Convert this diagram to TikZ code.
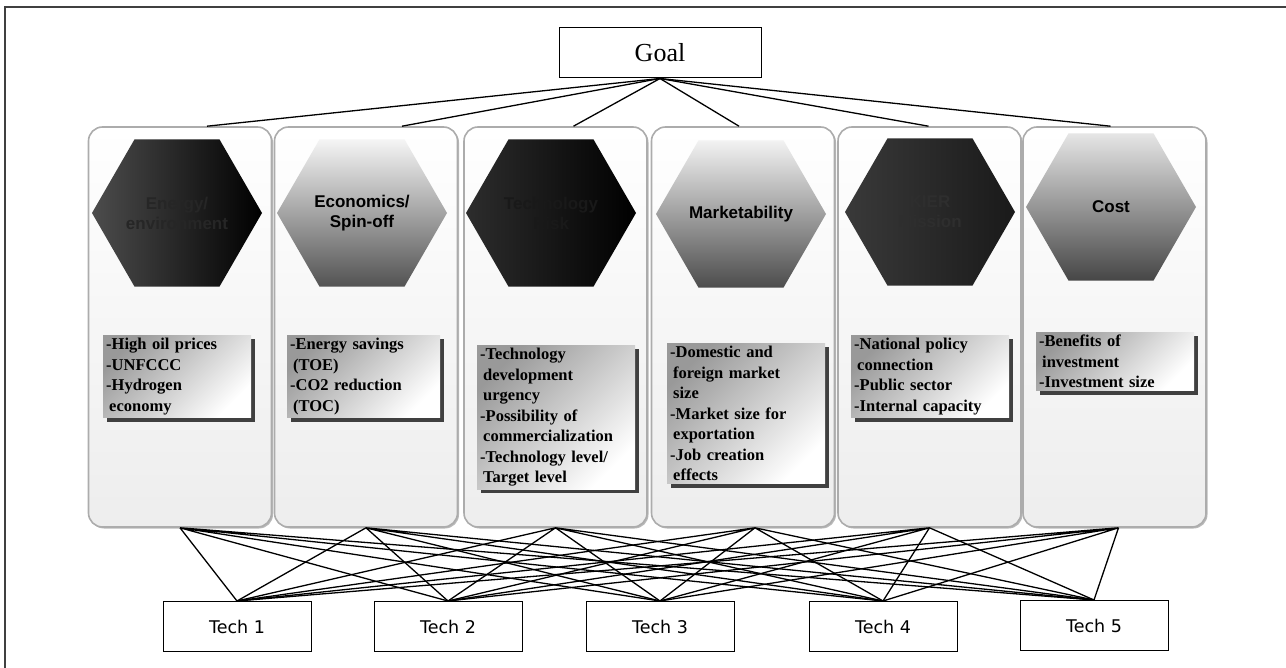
\documentclass[tikz,border=0pt]{standalone}
\usepackage{fontspec}
\setmainfont{Liberation Serif}
\newfontfamily\hexfont{Liberation Sans}
\newfontfamily\techfont{DejaVu Sans}
\usetikzlibrary{shapes.geometric,shadows}

\tikzset{
  panel/.style={draw=gray!65, line width=1.6pt, rounded corners=14pt,
    minimum width=183pt, minimum height=400pt, top color=white, bottom color=gray!14,
    drop shadow={shadow xshift=1.5pt, shadow yshift=-1.5pt, fill=gray!55, opacity=1}},
  hexa/.style={regular polygon, regular polygon sides=6, minimum size=170pt,
    inner sep=0pt, align=center, font=\hexfont\bfseries\fontsize{17}{20}\selectfont},
  items/.style={anchor=north west, inner sep=3pt, align=left,
    font=\bfseries\fontsize{16.5}{20.5}\selectfont, shading=axis,
    top color=gray!80, bottom color=white, shading angle=45,
    drop shadow={shadow xshift=4pt, shadow yshift=-4pt, fill=black!75, opacity=1}},
  techbox/.style={draw, line width=1pt, minimum width=148pt, minimum height=50pt,
    font=\techfont\fontsize{17.5}{20}\selectfont},
  link/.style={line width=1.3pt},
}

\begin{document}
\begin{tikzpicture}[x=1pt, y=-1pt]
	\useasboundingbox (0,0) rectangle (1286,668);
	\draw[line width=1.3pt, black!75] (5,668) -- (5,7) -- (1286,7);

	\node[draw, line width=1pt, minimum width=202pt, minimum height=50pt,
	  font=\fontsize{26}{30}\selectfont] (goal) at (660,53) {Goal};

	% alternatives
	\node[techbox] (t1) at (237,626.5) {Tech 1};
	\node[techbox] (t2) at (448,626.5) {Tech 2};
	\node[techbox] (t3) at (660,626.5) {Tech 3};
	\node[techbox] (t4) at (883,626.5) {Tech 4};
	\node[techbox] (t5) at (1094,625.5) {Tech 5};

	% criteria panels
	\node[panel] (p1) at (180,327) {};
	\node[panel] (p2) at (366,327) {};
	\node[panel] (p3) at (555.5,327) {};
	\node[panel] (p4) at (743,327) {};
	\node[panel] (p5) at (929.5,327) {};
	\node[panel] (p6) at (1114.5,327) {};

	\draw[link] (goal.south) -- ([xshift=27pt]p1.north);
	\draw[link] (goal.south) -- ([xshift=36pt]p2.north);
	\draw[link] (goal.south) -- ([xshift=18pt]p3.north);
	\draw[link] (goal.south) -- ([xshift=-4pt]p4.north);
	\draw[link] (goal.south) -- ([xshift=-1pt]p5.north);
	\draw[link] (goal.south) -- ([xshift=-4pt]p6.north);

	\draw[link] (p1.south) -- (t1.north) (p1.south) -- (t2.north) (p1.south) -- (t3.north)
	  (p1.south) -- (t4.north) (p1.south) -- (t5.north);
	\draw[link] (p2.south) -- (t1.north) (p2.south) -- (t2.north) (p2.south) -- (t3.north)
	  (p2.south) -- (t4.north) (p2.south) -- (t5.north);
	\draw[link] (p3.south) -- (t1.north) (p3.south) -- (t2.north) (p3.south) -- (t3.north)
	  (p3.south) -- (t4.north) (p3.south) -- (t5.north);
	\draw[link] ([xshift=12pt]p4.south) -- (t1.north) ([xshift=12pt]p4.south) -- (t2.north)
	  ([xshift=12pt]p4.south) -- (t3.north) ([xshift=12pt]p4.south) -- (t4.north)
	  ([xshift=12pt]p4.south) -- (t5.north);
	\draw[link] (p5.south) -- (t1.north) (p5.south) -- (t2.north) (p5.south) -- (t3.north)
	  (p5.south) -- (t4.north) (p5.south) -- (t5.north);
	\draw[link] ([xshift=4pt]p6.south) -- (t1.north) ([xshift=4pt]p6.south) -- (t2.north)
	  ([xshift=4pt]p6.south) -- (t3.north) ([xshift=4pt]p6.south) -- (t4.north)
	  ([xshift=4pt]p6.south) -- (t5.north);

	% hexagons
	\node[hexa, left color=gray!60!black, right color=black, text=black!85] (h1) at (177,213)
	  {Energy/\\environment};
	\node[hexa, shading angle=20, top color=gray!8, bottom color=gray!65!black, text=black] (h2) at (362,213)
	  {Economics/\\Spin-off};
	\node[hexa, left color=gray!35!black, right color=black, text=black!90] (h3) at (551,213)
	  {Technology\\Risk};
	\node[hexa, shading angle=15, top color=gray!10, bottom color=gray!60!black, text=black] (h4) at (741,214)
	  {Marketability};
	\node[hexa, left color=gray!45!black, right color=black!90, text=black!82] (h5) at (930,212)
	  {KIER\\Mission};
	\node[hexa, shading angle=15, top color=gray!20, bottom color=gray!55!black, text=black] (h6) at (1111,207)
	  {Cost};

	% sub-criteria
	\node[items, text width=142pt] (s1) at (103,335)
	  {-High oil prices\\-UNFCCC\\-Hydrogen\\\hspace*{3pt}economy};
	\node[items, text width=147pt] (s2) at (287,335)
	  {-Energy savings\\\hspace*{3pt}(TOE)\\-CO2 reduction\\\hspace*{3pt}(TOC)};
	\node[items, text width=152pt] (s3) at (477,345)
	  {-Technology\\\hspace*{3pt}development\\\hspace*{3pt}urgency\\-Possibility of\\\hspace*{3pt}commercialization\\-Technology level/\\\hspace*{3pt}Target level};
	\node[items, text width=152pt] (s4) at (667,343)
	  {-Domestic and\\\hspace*{3pt}foreign market\\\hspace*{3pt}size\\-Market size for\\\hspace*{3pt}exportation\\-Job creation\\\hspace*{3pt}effects};
	\node[items, text width=152pt] (s5) at (851,335)
	  {-National policy\\\hspace*{3pt}connection\\-Public sector\\-Internal capacity};
	\node[items, text width=152pt] (s6) at (1036,332)
	  {-Benefits of\\\hspace*{3pt}investment\\-Investment size};
\end{tikzpicture}
\end{document}
